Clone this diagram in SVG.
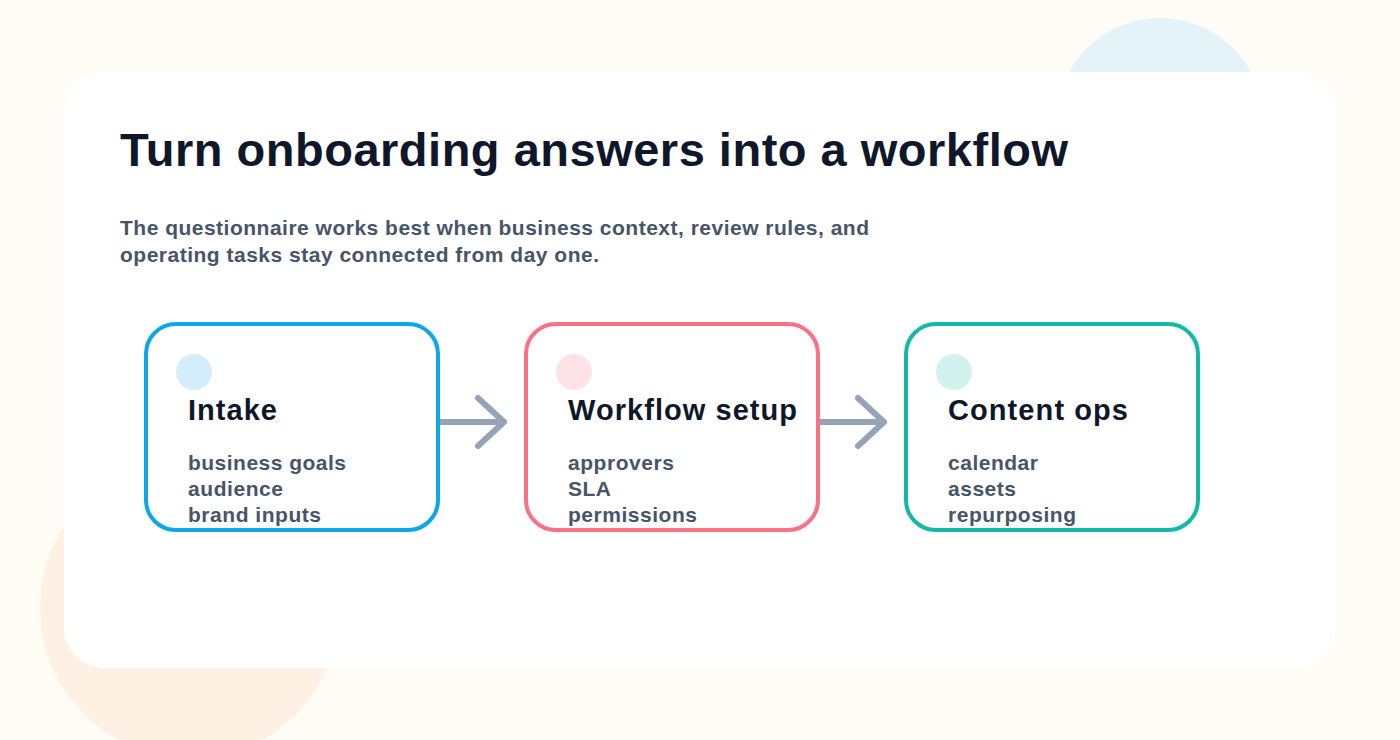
<svg xmlns="http://www.w3.org/2000/svg" width="1400" height="740" viewBox="0 0 1400 740">
<style>
.t{font-family:"Liberation Sans",Arial,sans-serif;font-weight:bold}
.h{font-size:29px;fill:#0f172a}
.i{font-size:21px;fill:#475569}
.box{fill:#fff;stroke-width:4}
.con{stroke:#94a3b8;stroke-width:6;stroke-linecap:round;stroke-linejoin:round;fill:none}
</style>
<rect width="1400" height="740" fill="#fffcf5"/>
<circle cx="1160" cy="122" r="104" fill="#e4f3f8"/>
<circle cx="190" cy="608" r="150" fill="#fff0e4"/>
<rect x="64" y="72" width="1272" height="596" rx="40" fill="#fff"/>
<text class="t" x="120" y="166" font-size="47" fill="#0f172a" textLength="948">Turn onboarding answers into a workflow</text>
<text class="t i" x="120" y="235" textLength="749">The questionnaire works best when business context, review rules, and</text>
<text class="t i" x="120" y="262" textLength="479">operating tasks stay connected from day one.</text>
<g id="connectors">
<path class="con" d="M440 422H504M478 398L504 422L478 446"/>
<path class="con" d="M820 422H884M858 398L884 422L858 446"/>
</g>
<g id="intake">
<rect class="box" x="146" y="324" width="292" height="206" rx="30" stroke="#0ea5e9"/>
<circle cx="194" cy="372" r="18" fill="#d3edfb"/>
<text class="t h" x="188" y="420" textLength="89">Intake</text>
<text class="t i" x="188" y="470" textLength="158">business goals</text>
<text class="t i" x="188" y="496" textLength="95">audience</text>
<text class="t i" x="188" y="522" textLength="133">brand inputs</text>
</g>
<g id="setup">
<rect class="box" x="526" y="324" width="292" height="206" rx="30" stroke="#f87185"/>
<circle cx="574" cy="372" r="18" fill="#fde3e7"/>
<text class="t h" x="568" y="420" textLength="229">Workflow setup</text>
<text class="t i" x="568" y="470" textLength="106">approvers</text>
<text class="t i" x="568" y="496" textLength="43">SLA</text>
<text class="t i" x="568" y="522" textLength="129">permissions</text>
</g>
<g id="ops">
<rect class="box" x="906" y="324" width="292" height="206" rx="30" stroke="#14b8a6"/>
<circle cx="954" cy="372" r="18" fill="#d1f2ee"/>
<text class="t h" x="948" y="420" textLength="180">Content ops</text>
<text class="t i" x="948" y="470" textLength="90">calendar</text>
<text class="t i" x="948" y="496" textLength="68">assets</text>
<text class="t i" x="948" y="522" textLength="128">repurposing</text>
</g>
</svg>
